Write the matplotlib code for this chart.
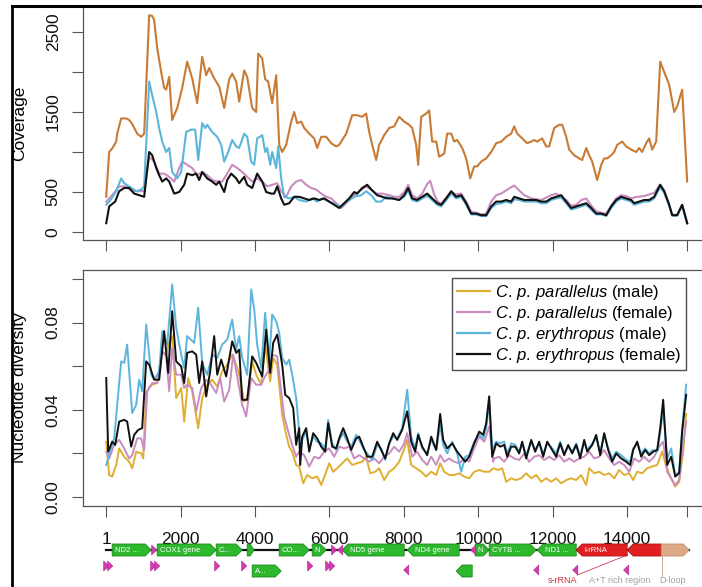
import numpy as np
import matplotlib
matplotlib.use('Agg')
import matplotlib.pyplot as plt
from matplotlib.patches import Polygon
from matplotlib.lines import Line2D

plt.rcParams['font.family'] = ['Liberation Sans', 'DejaVu Sans']
plt.rcParams['mathtext.fontset'] = 'custom'
plt.rcParams['mathtext.it'] = 'Liberation Sans:italic'
plt.rcParams['mathtext.rm'] = 'Liberation Sans'

# ---------------- data: coverage (top panel) ----------------
cov_pm_x = [1,81,161,269,296,403,537,618,699,833,940,1021,1155,1236,1290,1370,1478,1558,1612,1693,1773,1908,2042,2176,2311,2445,2580,2687,2768,2902,3036,3171,3305,3386,3493,3574,3708,3789,3923,4031,4084,4192,4272,4353,4460,4568,4649,4729,4837,4971,5052,5132,5240,5320,5455,5589,5670,5777,5912,6046,6180,6261,6449,6610,6744,6879,6986,7067,7147,7255,7335,7470,7604,7738,7873,8007,8141,8222,8329,8383,8464,8598,8679,8759,8867,8947,9082,9163,9270,9351,9431,9566,9673,9781,9888,9969,10076,10211,10345,10479,10614,10748,10882,10963,11044,11178,11312,11420,11500,11581,11715,11823,11903,12038,12172,12253,12360,12441,12575,12709,12790,12898,12978,13059,13193,13301,13381,13462,13569,13650,13731,13865,13972,14107,14241,14321,14402,14509,14590,14671,14778,14886,14993,15127,15262,15342,15476,15611]
cov_pm_y = [440,1000,1045,1130,1230,1420,1420,1400,1350,1230,1190,1230,2710,2700,2650,2300,2000,1800,1780,1940,1400,1550,1800,2130,1920,1610,2190,1960,2050,1920,1820,1550,1910,1980,1880,1630,2020,1940,1550,1500,2230,2170,1910,1880,1610,1960,1090,1000,1090,1380,1500,1360,1380,1300,1230,1170,1050,1190,1190,1110,1070,1090,1230,1460,1460,1440,1480,1250,1090,900,1090,1210,1300,1320,1440,1380,1340,1300,1090,840,1440,1480,1520,1130,1130,940,980,1230,1230,1130,1150,1050,920,670,820,820,880,920,1000,1110,1130,1190,1230,1320,1230,1170,1110,1130,1150,1130,1170,1070,1070,1300,1340,1340,1190,1030,960,920,900,1050,960,880,650,840,920,920,960,1000,1090,1130,1070,1030,1000,1050,1000,1110,1170,1030,1130,2130,2000,1840,1500,1570,1780,630]

cov_pf_x = [1,161,349,537,699,940,1021,1155,1290,1424,1558,1693,1827,1962,2042,2176,2311,2445,2580,2714,2848,2983,3117,3251,3386,3520,3654,3789,3923,4057,4192,4326,4460,4595,4702,4837,4971,5105,5240,5374,5508,5643,5777,5912,6046,6180,6314,6449,6610,6798,6986,7121,7255,7416,7604,7738,7873,8007,8115,8222,8356,8491,8625,8706,8813,8894,9001,9136,9270,9404,9539,9673,9808,9942,10076,10211,10345,10479,10614,10748,10882,10963,11097,11232,11420,11554,11688,11823,11957,12091,12226,12360,12494,12629,12763,12898,13032,13166,13301,13435,13569,13704,13838,13972,14107,14187,14241,14321,14456,14590,14724,14886,14993,15127,15208,15342,15476,15611]
cov_pf_y = [380,460,570,570,510,510,510,940,880,730,730,690,630,800,880,840,800,710,750,710,650,630,630,730,840,800,750,690,630,670,630,570,590,610,510,440,570,630,650,590,550,530,480,440,420,360,300,360,440,510,570,530,480,480,460,440,440,500,590,460,420,480,600,640,470,390,350,430,500,470,480,380,250,240,220,230,380,460,480,520,560,580,520,460,420,410,400,430,460,480,440,400,330,340,400,420,330,260,240,230,330,420,460,450,420,430,440,440,450,470,490,590,520,340,215,215,340,110]

cov_em_x = [1,134,269,403,484,618,806,940,1021,1155,1236,1344,1424,1505,1612,1693,1773,1908,2015,2150,2284,2391,2472,2580,2660,2714,2848,2983,3090,3171,3278,3386,3493,3574,3708,3789,3896,3977,4057,4192,4272,4326,4407,4460,4568,4622,4702,4783,4917,5052,5186,5374,5535,5670,5804,5992,6180,6314,6476,6664,6852,6986,7121,7255,7389,7524,7685,7873,8007,8115,8222,8356,8491,8625,8759,8894,9001,9136,9270,9404,9539,9673,9808,9942,10076,10211,10345,10479,10614,10748,10882,10963,11097,11232,11420,11554,11688,11823,11957,12091,12226,12360,12494,12629,12763,12898,13032,13166,13301,13435,13569,13704,13838,13972,14107,14187,14321,14456,14590,14724,14886,14993,15127,15208,15342,15476,15611]
cov_em_y = [340,410,510,670,610,570,510,530,570,1880,1710,1500,1300,1130,1000,1050,750,670,750,1250,1280,1280,900,1360,1300,1340,1250,1190,1090,880,1000,1150,1070,1050,1230,1190,880,840,1170,1210,1000,1050,840,1000,800,1070,670,440,420,440,400,380,420,380,420,380,340,320,380,440,460,510,460,380,380,440,420,400,440,520,400,380,420,450,400,340,320,400,480,420,440,340,220,220,200,200,300,350,360,380,360,410,400,380,380,380,360,360,400,420,430,360,280,300,320,340,280,220,220,200,300,380,420,400,380,340,360,380,380,420,560,490,330,205,205,330,105]

cov_ef_x = [1,81,242,349,484,618,752,887,1021,1155,1236,1344,1424,1505,1612,1693,1827,1962,2096,2176,2311,2418,2499,2580,2714,2848,2956,3036,3171,3251,3359,3493,3574,3708,3789,3923,4057,4192,4299,4434,4514,4595,4702,4783,4917,5052,5186,5320,5455,5589,5723,5858,5992,6126,6261,6395,6529,6664,6744,6879,7013,7147,7282,7416,7550,7685,7873,8007,8115,8222,8356,8491,8625,8759,8894,9001,9136,9270,9404,9539,9673,9808,9942,10076,10211,10345,10479,10614,10748,10882,10963,11097,11232,11420,11554,11688,11823,11957,12091,12226,12360,12494,12629,12763,12898,13032,13166,13301,13435,13569,13704,13838,13972,14107,14187,14321,14456,14590,14724,14886,14993,15127,15208,15342,15476,15611]
cov_ef_y = [110,320,380,510,550,550,480,460,440,1000,960,800,710,630,670,630,480,500,590,730,710,730,650,750,670,630,590,630,500,650,730,670,610,690,590,550,730,630,500,480,480,570,420,340,360,440,440,420,400,420,400,420,380,340,300,360,420,500,480,550,590,520,460,440,420,420,400,460,550,420,400,440,480,420,360,340,420,510,440,460,360,230,230,210,210,320,380,380,400,380,440,420,400,400,400,380,380,420,440,460,380,300,320,340,360,300,230,230,210,320,400,440,420,400,360,380,400,400,440,590,510,340,210,210,340,110]

# ---------------- data: nucleotide diversity (bottom panel) ----------------
nd_pm_x = [1,81,161,269,349,484,618,699,806,940,994,1075,1155,1236,1370,1505,1612,1693,1773,1881,2015,2096,2203,2311,2472,2580,2714,2848,2983,3117,3251,3386,3493,3574,3708,3789,3923,4031,4165,4272,4407,4487,4595,4729,4837,4917,4998,5105,5186,5293,5401,5535,5670,5777,5912,5992,6100,6207,6341,6476,6610,6744,6879,6986,7094,7228,7335,7470,7604,7738,7873,7980,8088,8195,8329,8464,8598,8733,8867,8974,9082,9216,9351,9485,9619,9754,9888,10023,10157,10291,10399,10533,10641,10748,10882,11017,11151,11285,11420,11554,11688,11823,11957,12091,12226,12360,12494,12629,12763,12898,12978,13113,13247,13381,13515,13650,13784,13918,14053,14160,14268,14402,14536,14671,14805,14939,15047,15181,15289,15396,15503,15584]
nd_pm_y = [0.0254,0.0101,0.0094,0.0147,0.0223,0.0185,0.0162,0.0132,0.0208,0.0200,0.0177,0.0477,0.0500,0.0515,0.0523,0.0668,0.0653,0.0714,0.0738,0.0454,0.0500,0.0346,0.0546,0.0485,0.0316,0.0454,0.0515,0.0538,0.0507,0.0577,0.0607,0.0653,0.0607,0.0561,0.0438,0.0454,0.0622,0.0561,0.0515,0.0699,0.0530,0.0638,0.0607,0.0377,0.0285,0.0231,0.0208,0.0147,0.0140,0.0063,0.0101,0.0086,0.0094,0.0055,0.0116,0.0155,0.0116,0.0132,0.0155,0.0177,0.0147,0.0155,0.0162,0.0185,0.0109,0.0116,0.0132,0.0078,0.0116,0.0132,0.0162,0.0208,0.0262,0.0147,0.0132,0.0116,0.0094,0.0116,0.0101,0.0155,0.0116,0.0101,0.0101,0.0109,0.0094,0.0086,0.0116,0.0124,0.0116,0.0116,0.0132,0.0124,0.0132,0.0070,0.0086,0.0078,0.0086,0.0109,0.0086,0.0101,0.0070,0.0086,0.0070,0.0086,0.0063,0.0078,0.0086,0.0078,0.0101,0.0055,0.0132,0.0109,0.0116,0.0101,0.0109,0.0086,0.0124,0.0101,0.0109,0.0078,0.0116,0.0109,0.0132,0.0140,0.0147,0.0208,0.0140,0.0086,0.0048,0.0070,0.0208,0.0381]

nd_pf_x = [1,81,215,349,484,618,699,833,940,1021,1102,1236,1370,1505,1612,1693,1773,1881,2015,2096,2176,2311,2418,2553,2687,2821,2956,3063,3171,3305,3413,3520,3654,3762,3896,4031,4165,4245,4380,4460,4595,4702,4783,4917,4998,5105,5186,5320,5455,5589,5723,5858,5992,6126,6261,6395,6529,6664,6798,6933,7067,7201,7335,7470,7604,7738,7873,8007,8088,8222,8356,8491,8625,8733,8867,8974,9082,9216,9351,9485,9619,9754,9888,10023,10157,10291,10399,10426,10560,10694,10829,10963,11097,11232,11366,11500,11635,11769,11903,12038,12172,12306,12441,12575,12709,12844,12978,13113,13247,13381,13515,13650,13784,13918,14053,14187,14321,14456,14590,14724,14859,14966,15074,15181,15289,15396,15476,15584]
nd_pf_y = [0.0208,0.0177,0.0239,0.0262,0.0223,0.0177,0.0192,0.0269,0.0269,0.0216,0.0485,0.0523,0.0523,0.0668,0.0645,0.0485,0.0684,0.0561,0.0561,0.0500,0.0515,0.0500,0.0392,0.0500,0.0538,0.0515,0.0477,0.0546,0.0438,0.0492,0.0653,0.0553,0.0423,0.0369,0.0546,0.0515,0.0515,0.0546,0.0584,0.0653,0.0645,0.0485,0.0369,0.0285,0.0239,0.0185,0.0208,0.0192,0.0140,0.0185,0.0177,0.0208,0.0223,0.0185,0.0231,0.0223,0.0231,0.0177,0.0192,0.0177,0.0162,0.0177,0.0155,0.0185,0.0200,0.0231,0.0208,0.0246,0.0293,0.0185,0.0208,0.0170,0.0147,0.0185,0.0147,0.0192,0.0162,0.0177,0.0162,0.0155,0.0177,0.0162,0.0223,0.0277,0.0254,0.0323,0.0162,0.0177,0.0185,0.0162,0.0192,0.0177,0.0170,0.0200,0.0162,0.0185,0.0192,0.0170,0.0185,0.0170,0.0192,0.0162,0.0177,0.0162,0.0177,0.0185,0.0208,0.0177,0.0185,0.0216,0.0177,0.0147,0.0162,0.0147,0.0116,0.0177,0.0162,0.0185,0.0162,0.0185,0.0231,0.0254,0.0116,0.0086,0.0055,0.0078,0.0208,0.0346]

nd_em_x = [1,81,215,296,403,484,564,699,806,887,967,1075,1209,1290,1424,1505,1639,1773,1881,2015,2096,2176,2365,2472,2580,2714,2848,2983,3117,3251,3386,3493,3574,3654,3789,3896,3977,4057,4165,4272,4380,4460,4568,4649,4729,4837,4917,4998,5105,5186,5213,5267,5374,5455,5562,5670,5777,5885,5965,6073,6180,6261,6368,6476,6583,6718,6798,6906,7013,7147,7282,7389,7497,7604,7712,7819,7953,8088,8195,8302,8383,8491,8625,8733,8867,8974,9055,9163,9297,9431,9539,9646,9754,9888,10023,10130,10211,10291,10372,10479,10587,10694,10775,10882,10990,11097,11178,11285,11420,11527,11635,11742,11850,11984,12091,12199,12306,12414,12521,12629,12736,12844,12924,13059,13166,13274,13381,13489,13596,13704,13838,13972,14080,14160,14268,14375,14483,14590,14697,14805,14886,14966,15074,15181,15289,15396,15476,15584]
nd_em_y = [0.0147,0.0196,0.0270,0.0423,0.0622,0.0615,0.0699,0.0385,0.0423,0.0538,0.0485,0.0791,0.0561,0.0538,0.0577,0.0761,0.0699,0.0975,0.0776,0.0653,0.0592,0.0738,0.0707,0.0868,0.0615,0.0561,0.0653,0.0638,0.0699,0.0722,0.0814,0.0676,0.0738,0.0638,0.0561,0.0952,0.0860,0.0699,0.0592,0.0845,0.0622,0.0837,0.0806,0.0753,0.0638,0.0607,0.0630,0.0561,0.0454,0.0300,0.0200,0.0262,0.0300,0.0223,0.0277,0.0254,0.0246,0.0223,0.0354,0.0246,0.0216,0.0262,0.0293,0.0254,0.0231,0.0285,0.0262,0.0223,0.0200,0.0170,0.0239,0.0223,0.0170,0.0246,0.0277,0.0269,0.0316,0.0492,0.0277,0.0223,0.0293,0.0223,0.0200,0.0262,0.0216,0.0331,0.0239,0.0200,0.0254,0.0200,0.0116,0.0185,0.0192,0.0254,0.0285,0.0269,0.0316,0.0431,0.0216,0.0254,0.0246,0.0254,0.0200,0.0246,0.0239,0.0208,0.0246,0.0192,0.0254,0.0216,0.0246,0.0200,0.0246,0.0223,0.0200,0.0254,0.0200,0.0231,0.0208,0.0246,0.0192,0.0254,0.0216,0.0246,0.0269,0.0208,0.0285,0.0223,0.0177,0.0208,0.0192,0.0170,0.0162,0.0223,0.0246,0.0200,0.0223,0.0200,0.0216,0.0208,0.0293,0.0400,0.0177,0.0223,0.0101,0.0116,0.0316,0.0515]

nd_ef_x = [1,54,161,242,349,484,564,672,752,860,967,1075,1155,1290,1424,1558,1666,1773,1881,2015,2096,2176,2311,2418,2499,2580,2687,2794,2902,2983,3090,3224,3386,3493,3574,3654,3789,3923,4031,4192,4299,4407,4487,4595,4729,4810,4917,5025,5105,5186,5213,5267,5374,5455,5562,5670,5777,5885,5965,6073,6180,6261,6368,6476,6583,6718,6798,6906,7013,7147,7282,7389,7497,7604,7712,7819,7953,8088,8195,8302,8383,8491,8625,8733,8867,8974,9055,9163,9297,9431,9539,9646,9754,9888,10023,10130,10211,10291,10372,10479,10587,10694,10775,10882,10990,11097,11178,11285,11420,11527,11635,11742,11850,11984,12091,12199,12306,12414,12521,12629,12736,12844,12924,13059,13166,13274,13381,13489,13596,13704,13838,13972,14080,14160,14268,14375,14483,14590,14697,14805,14886,14966,15074,15181,15289,15396,15476,15584]
nd_ef_y = [0.0546,0.0208,0.0254,0.0239,0.0346,0.0354,0.0346,0.0231,0.0285,0.0308,0.0316,0.0622,0.0607,0.0538,0.0538,0.0761,0.0569,0.0852,0.0622,0.0599,0.0523,0.0661,0.0668,0.0653,0.0523,0.0622,0.0461,0.0577,0.0738,0.0561,0.0630,0.0553,0.0714,0.0661,0.0676,0.0446,0.0446,0.0645,0.0615,0.0553,0.0768,0.0569,0.0707,0.0745,0.0607,0.0469,0.0454,0.0408,0.0239,0.0316,0.0147,0.0277,0.0316,0.0208,0.0293,0.0269,0.0231,0.0208,0.0339,0.0231,0.0223,0.0269,0.0316,0.0269,0.0216,0.0269,0.0277,0.0231,0.0185,0.0185,0.0254,0.0216,0.0177,0.0246,0.0293,0.0262,0.0308,0.0393,0.0254,0.0208,0.0285,0.0231,0.0192,0.0277,0.0216,0.0381,0.0262,0.0223,0.0246,0.0208,0.0185,0.0162,0.0185,0.0246,0.0300,0.0285,0.0339,0.0462,0.0185,0.0246,0.0231,0.0239,0.0185,0.0231,0.0231,0.0200,0.0254,0.0177,0.0262,0.0208,0.0254,0.0185,0.0254,0.0216,0.0185,0.0246,0.0192,0.0239,0.0200,0.0239,0.0177,0.0262,0.0208,0.0239,0.0285,0.0192,0.0293,0.0216,0.0162,0.0200,0.0177,0.0162,0.0147,0.0216,0.0254,0.0185,0.0216,0.0192,0.0208,0.0216,0.0316,0.0446,0.0147,0.0185,0.0094,0.0109,0.0300,0.0469]

series_labels = [r'$\it{C.\,p.\,parallelus}$ (male)', r'$\it{C.\,p.\,parallelus}$ (female)',
                 r'$\it{C.\,p.\,erythropus}$ (male)', r'$\it{C.\,p.\,erythropus}$ (female)']

x_ticks = [1, 2000, 4000, 6000, 8000, 10000, 12000, 14000, 15600]
x_tick_labels = ['1', '2000', '4000', '6000', '8000', '10000', '12000', '14000', '']
cov_ticks = [0, 500, 1000, 1500, 2000, 2500]
cov_tick_labels = ['0', '500', '', '1500', '', '2500']
nd_ticks = [0.00, 0.02, 0.04, 0.06, 0.08, 0.10]
nd_tick_labels = ['0.00', '', '0.04', '', '0.08', '']

# ---------------- data: genome map ----------------
gene_names = ['ND2 ...', 'COX1 gene', 'C...', '', 'A...', 'CO...', 'N', 'ND5 gene', 'ND4 gene', '', 'N', 'CYTB ...', 'ND1 ...', 'l-rRNA', '', '']
gene_start = [161, 1370, 2956, 3789, 3923, 4649, 5535, 6341, 8088, 9404, 9915, 10291, 11581, 12629, 13999, 14913]
gene_end = [1209, 2956, 3654, 3977, 4702, 5455, 5912, 8007, 9485, 9834, 10291, 11554, 12629, 13999, 14913, 15665]
gene_strand = [1, 1, 1, 1, 1, 1, 1, -1, -1, -1, 1, 1, -1, -1, -1, 1]
gene_row = [0, 0, 0, 0, 1, 0, 0, 0, 0, 1, 0, 0, 0, 0, 0, 0]
gene_kind = ['cds'] * 13 + ['rrna', 'rrna', 'dloop']

trna_pos = [1290, 6126, 6288, 9862, 1, 107, 1263, 1370, 2983, 3708, 5481, 5965, 6073, 8061, 11554, 12602, 13972]
trna_strand = [1, 1, -1, -1, 1, 1, 1, 1, 1, 1, 1, 1, 1, -1, -1, -1, -1]
trna_row = [0, 0, 0, 0, 1, 1, 1, 1, 1, 1, 1, 1, 1, 2, 2, 2, 2]

region_labels = ['s-rRNA', 'A+T rich region', 'D-loop']
region_label_pos = [12253, 13784, 15208]

# ---------------- styles ----------------
C_COV = '#C97B35'
C_GOLD = '#E0AE30'
C_PINK = '#C98CC0'
C_BLUE = '#5CB6DC'
C_BLACK = '#111111'
SPINE = '#555555'

W, H = 702, 587
fig = plt.figure(figsize=(W / 100, H / 100), dpi=100)

XL = (-623, 16224)
ax1 = fig.add_axes([83 / W, 1 - 240 / H, (710 - 83) / W, (240 - 6) / H])
ax2 = fig.add_axes([83 / W, 1 - 506 / H, (710 - 83) / W, (506 - 270) / H])
axg = fig.add_axes([83 / W, 0, (710 - 83) / W, 47 / H])

# top panel
ax1.plot(cov_pm_x, cov_pm_y, color=C_COV, lw=1.5)
ax1.plot(cov_pf_x, cov_pf_y, color=C_PINK, lw=1.5)
ax1.plot(cov_em_x, cov_em_y, color=C_BLUE, lw=1.5)
ax1.plot(cov_ef_x, cov_ef_y, color=C_BLACK, lw=1.5)
ax1.set_xlim(*XL)
ax1.set_ylim(-100, 2825)
ax1.set_xticks(x_ticks)
ax1.set_xticklabels([])
ax1.set_yticks(cov_ticks)
ax1.set_yticklabels(cov_tick_labels, rotation=90, va='center')

# bottom panel
ax2.plot(nd_pm_x, nd_pm_y, color=C_GOLD, lw=1.4, label=series_labels[0])
ax2.plot(nd_pf_x, nd_pf_y, color=C_PINK, lw=1.4, label=series_labels[1])
ax2.plot(nd_em_x, nd_em_y, color=C_BLUE, lw=1.4, label=series_labels[2])
ax2.plot(nd_ef_x, nd_ef_y, color=C_BLACK, lw=1.4, label=series_labels[3])
ax2.set_xlim(*XL)
ax2.set_ylim(-0.0041, 0.1041)
ax2.set_xticks(x_ticks)
ax2.set_xticklabels(x_tick_labels)
ax2.set_yticks(nd_ticks)
ax2.set_yticklabels(nd_tick_labels, rotation=90, va='center')

for ax in (ax1, ax2):
    ax.spines['right'].set_visible(False)
    for s in ('left', 'bottom', 'top'):
        ax.spines[s].set_color(SPINE)
        ax.spines[s].set_linewidth(0.9)
    ax.tick_params(axis='both', length=8, width=0.8, color=SPINE, labelsize=12.5,
                   labelcolor='#111111')
    ax.tick_params(axis='y', pad=8)
    ax.tick_params(axis='x', pad=11)
ax1.spines['top'].set_visible(False)

leg = ax2.legend(loc='upper left', bbox_to_anchor=(0.5885, 0.966), borderaxespad=0,
                 fontsize=12, frameon=True, fancybox=False, edgecolor='#222222',
                 handlelength=2.0, handletextpad=0.3, labelspacing=0.12, borderpad=0.3)
leg.get_frame().set_linewidth(1.0)
for lh in leg.get_lines():
    lh.set_linewidth(1.6)

fig.text(20 / W, 1 - 123 / H, 'Coverage', rotation=90, ha='center', va='center', fontsize=12.5)
fig.text(20 / W, 1 - 388 / H, 'Nucleotide diversity', rotation=90, ha='center', va='center', fontsize=12.5)

# figure frame (left and top edge)
fig.add_artist(Line2D([12 / W, 12 / W], [0, 1 - 6 / H], transform=fig.transFigure, color='k', lw=2.0))
fig.add_artist(Line2D([12 / W, 1], [1 - 6 / H, 1 - 6 / H], transform=fig.transFigure, color='k', lw=2.2))

# genome map
axg.set_xlim(*XL)
axg.set_ylim(47, 0)
axg.axis('off')
bp_per_px = (XL[1] - XL[0]) / 627.0
row_y = {0: 10, 1: 31}
half_h = 6
head = 6 * bp_per_px
axg.plot([1, 15665], [10, 10], color='#111111', lw=1.6, zorder=1)
fills = {'cds': ('#2DB82D', '#1E8A1E'), 'rrna': ('#E02020', '#B01515'), 'dloop': ('#DDAA88', '#C08E6E')}
for name, s, e, st, r, k in zip(gene_names, gene_start, gene_end, gene_strand, gene_row, gene_kind):
    yc = row_y[r]
    hl = min(head, (e - s) * 0.6)
    if st > 0:
        pts = [(s, yc - half_h), (e - hl, yc - half_h), (e, yc), (e - hl, yc + half_h), (s, yc + half_h)]
        tx = s + 2.5 * bp_per_px
    else:
        pts = [(e, yc - half_h), (s + hl, yc - half_h), (s, yc), (s + hl, yc + half_h), (e, yc + half_h)]
        tx = s + hl + 2 * bp_per_px
    fc, ec = fills[k]
    axg.add_patch(Polygon(pts, closed=True, facecolor=fc, edgecolor=ec, lw=0.6, zorder=2))
    if name:
        axg.text(tx, yc + 0.3, name, color='white', fontsize=5.5, ha='left', va='center', zorder=3)

trna_y = {0: 10, 1: 26, 2: 30}
tw = 2.6 * bp_per_px
for p, st, r in zip(trna_pos, trna_strand, trna_row):
    yc = trna_y[r]
    hh = 5
    if st > 0:
        pts = [(p - tw, yc - hh), (p + tw, yc), (p - tw, yc + hh)]
    else:
        pts = [(p + tw, yc - hh), (p - tw, yc), (p + tw, yc + hh)]
    axg.add_patch(Polygon(pts, closed=True, facecolor='#D63AAF', edgecolor='#B02090', lw=0.4, zorder=4))

# region annotations
axg.plot([12656, 13999], [35, 15], color='#D04060', lw=0.6, zorder=1.5)
axg.plot([14939, 14939], [16, 36], color='#C8A090', lw=0.6, zorder=1.5)
axg.text(region_label_pos[0], 40.5, region_labels[0], color='#CC3040', fontsize=6.5, ha='center', va='center')
axg.text(region_label_pos[1], 40.5, region_labels[1], color='#A0A0A0', fontsize=6.5, ha='center', va='center')
axg.text(region_label_pos[2], 40.5, region_labels[2], color='#A0A0A0', fontsize=6.5, ha='center', va='center')

fig.savefig('out.png', dpi=100)
